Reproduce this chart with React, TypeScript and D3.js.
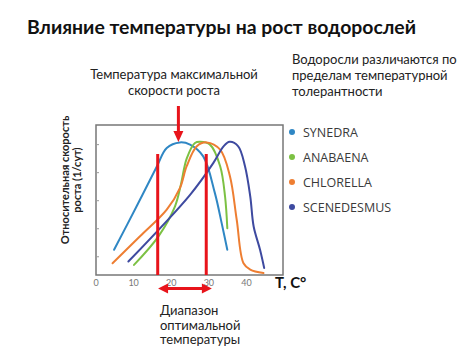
import React from "react";
import * as d3 from "d3";

const W = 474;
const H = 355;

const xTicks = [0, 10, 20, 30, 40];
const yTicks = [1, 2, 3, 4, 5];

const seriesNames = ["SYNEDRA", "ANABAENA", "CHLORELLA", "SCENEDESMUS"];
const seriesColors = ["#2f87c4", "#7cc143", "#ee7e32", "#3e4aa0"];

const synedraT = [4.8, 10.8, 16.1, 18.8, 22.3, 25, 28.5, 31.6, 33.4, 34.9];
const synedraV = [1.25, 2.8, 4.2, 4.88, 5.08, 5.0, 4.58, 3.27, 2.2, 1.25];

const anabaenaT = [10.1, 16.6, 21, 22.6, 24.1, 26.3, 27.7, 30.3, 33, 34.3, 34.9];
const anabaenaV = [0.71, 1.73, 2.8, 3.6, 4.5, 5.06, 5.1, 5.0, 4.23, 3.15, 2.02];

const chlorellaT = [4.4, 11.7, 18.8, 22.3, 24.1, 26.8, 29.4, 33, 35.6, 37.4, 39.2, 41, 44.5];
const chlorellaV = [0.77, 1.73, 2.68, 3.45, 4.23, 4.94, 5.08, 4.82, 3.87, 2.32, 0.77, 0.54, 0.42];

const scenedesmusT = [8.6, 25, 31.2, 33.9, 35.5, 37.8, 39.6, 41, 41.9, 43.6, 44.7];
const scenedesmusV = [0.83, 3.21, 4.35, 4.94, 5.1, 4.94, 4.23, 3.15, 2.08, 1.25, 0.6];

const seriesT = [synedraT, anabaenaT, chlorellaT, scenedesmusT];
const seriesV = [synedraV, anabaenaV, chlorellaV, scenedesmusV];

// annotation temperatures
const optLow = 16.4;
const optHigh = 29.3;
const optPeak = 21.9;
const rangeArrowFrom = 16.5;
const rangeArrowTo = 30.8;

const title = "Влияние температуры на рост водорослей";
const noteTop = ["Температура максимальной", "скорости роста"];
const noteRight = ["Водоросли различаются по", "пределам температурной", "толерантности"];
const noteBottom = ["Диапазон", "оптимальной", "температуры"];
const yLabel = ["Относительная скорость", "роста (1/сут)"];
const xLabel = "T, C°";

export default function App() {
  const x = d3.scaleLinear().domain([0, 49.7]).range([96, 283]);
  const y = d3.scaleLinear().domain([0.35, 5.7]).range([275, 125]);
  const [x0, x1] = x.range();
  const [yb, yt] = y.range();

  const line = d3
    .line<[number, number]>()
    .x((d) => x(d[0]))
    .y((d) => y(d[1]))
    .curve(d3.curveCatmullRom.alpha(0.5));

  const red = "#e8141b";
  const font = "Lato, 'Open Sans', sans-serif";
  const arrowX = x(optPeak);
  const ax1 = x(rangeArrowFrom);
  const ax2 = x(rangeArrowTo);
  const ay = 288.5;

  return (
    <svg
      width={W}
      height={H}
      style={{ position: "absolute", left: 0, top: 0, background: "#fff" }}
      fontFamily={font}
    >
      <rect x={0} y={0} width={W} height={H} fill="#fff" />
      <text x={27} y={33.5} fontSize={19} fontWeight={700} fill="#111" textLength={389} lengthAdjust="spacingAndGlyphs">
        {title}
      </text>

      {noteTop.map((t, i) => (
        <text key={t} x={174} y={79 + i * 16} fontSize={13} textAnchor="middle" fill="#222">
          {t}
        </text>
      ))}
      {noteRight.map((t, i) => (
        <text key={t} x={292} y={64 + i * 16} fontSize={13} fill="#222">
          {t}
        </text>
      ))}
      {noteBottom.map((t, i) => (
        <text key={t} x={160} y={315 + i * 14.5} fontSize={13} fill="#222">
          {t}
        </text>
      ))}

      {/* y label */}
      {yLabel.map((t, i) => (
        <text
          key={t}
          transform={`translate(${69 + i * 11.5},180) rotate(-90)`}
          fontSize={11}
          fontWeight={700}
          textAnchor="middle"
          fill="#222"
        >
          {t}
        </text>
      ))}

      {/* frame */}
      <rect x={x0} y={yt} width={x1 - x0} height={yb - yt} fill="none" stroke="#777" strokeWidth={1.5} />
      {yTicks.map((v) => (
        <line key={v} x1={x0} x2={x0 + 3} y1={y(v)} y2={y(v)} stroke="#999" strokeWidth={1} />
      ))}
      {xTicks.map((v) => (
        <text key={v} x={x(v)} y={286} fontSize={9} textAnchor="middle" fill="#777">
          {v}
        </text>
      ))}
      <text x={275} y={288} fontSize={15} fontWeight={700} fill="#111">
        {xLabel}
      </text>

      {/* curves */}
      {seriesNames.map((n, i) => (
        <path
          key={n}
          d={line(seriesT[i].map((t, j) => [t, seriesV[i][j]] as [number, number])) || ""}
          fill="none"
          stroke={seriesColors[i]}
          strokeWidth={2}
          strokeLinecap="round"
        />
      ))}

      {/* red annotation */}
      <line x1={x(optLow)} x2={x(optLow)} y1={154} y2={yb} stroke={red} strokeWidth={3} />
      <line x1={x(optHigh)} x2={x(optHigh)} y1={154} y2={yb} stroke={red} strokeWidth={3} />
      <line x1={arrowX} x2={arrowX} y1={106} y2={133} stroke={red} strokeWidth={3} />
      <path d={`M${arrowX - 5},${131} L${arrowX + 5},${131} L${arrowX},${142} Z`} fill={red} />
      <line x1={ax1 + 8} x2={ax2 - 8} y1={ay} y2={ay} stroke={red} strokeWidth={3} />
      <path d={`M${ax1},${ay} L${ax1 + 10},${ay - 5} L${ax1 + 10},${ay + 5} Z`} fill={red} />
      <path d={`M${ax2},${ay} L${ax2 - 10},${ay - 5} L${ax2 - 10},${ay + 5} Z`} fill={red} />

      {/* legend */}
      {seriesNames.map((n, i) => (
        <g key={n} transform={`translate(292,${132 + i * 25})`}>
          <circle cx={0} cy={0} r={3} fill={seriesColors[i]} />
          <text x={11} y={4.5} fontSize={12.5} fill="#3a3a3a" fontFamily="'Open Sans', sans-serif">
            {n}
          </text>
        </g>
      ))}
    </svg>
  );
}
